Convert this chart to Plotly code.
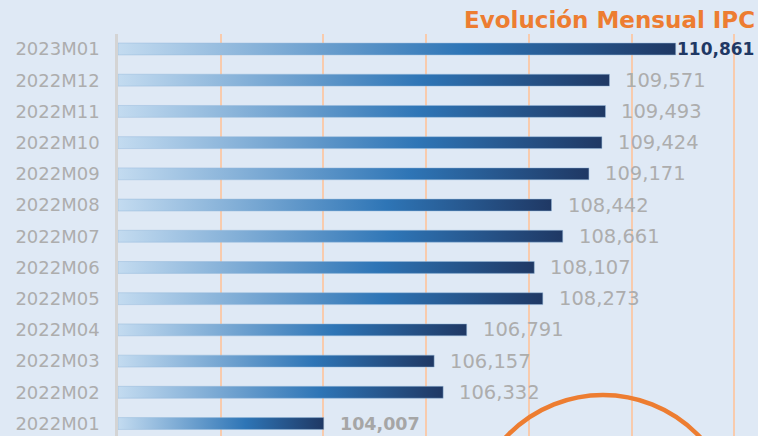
import plotly.graph_objects as go

categories = ["2023M01", "2022M12", "2022M11", "2022M10", "2022M09", "2022M08", "2022M07",
              "2022M06", "2022M05", "2022M04", "2022M03", "2022M02", "2022M01"]
values = [110.861, 109.571, 109.493, 109.424, 109.171, 108.442, 108.661,
          108.107, 108.273, 106.791, 106.157, 106.332, 104.007]
title_text = "Evolución Mensual IPC"

BASE = 100.0
HALF = 0.19
FONT = "DejaVu Sans"
grad = [[0, "#c3dbf0"], [0.62, "#2e75b6"], [1, "#1f3864"]]

fig = go.Figure()
for i, v in enumerate(values):
    fig.add_trace(go.Scatter(
        x=[BASE, v, v, BASE, BASE],
        y=[i - HALF, i - HALF, i + HALF, i + HALF, i - HALF],
        mode="lines", fill="toself",
        line=dict(width=0.8, color="rgba(150,185,220,0.6)"),
        fillgradient=dict(type="horizontal", colorscale=grad),
        hoverinfo="skip", showlegend=False,
    ))

vmax = max(values)
vmin = min(values)
for i, v in enumerate(values):
    txt = f"{v:,.3f}".replace(".", ",")
    if v == vmax:
        font = dict(size=17, color="#1f3864", family=FONT, weight="bold")
        shift = -1
    elif v == vmin:
        font = dict(size=17.5, color="#a6a6a6", family=FONT, weight="bold")
        shift = 14
    else:
        font = dict(size=19.5, color="#adadad", family=FONT)
        shift = 14
    fig.add_annotation(x=v, y=i, text=txt, showarrow=False, xanchor="left",
                       yanchor="middle", xshift=shift, font=font)

fig.add_annotation(x=1, y=1.035, xref="paper", yref="paper", text=title_text,
                   showarrow=False, xanchor="right", yanchor="middle", xshift=-1,
                   font=dict(size=23, color="#ed7d31", family=FONT, weight="bold"))

fig.add_shape(type="circle", xref="paper", yref="paper",
              x0=0.55, x1=0.9656, y0=-0.56, y1=0.102,
              line=dict(color="#ed7d31", width=4.5), layer="above")

fig.update_layout(
    width=758, height=436,
    margin=dict(l=118, r=0, t=34, b=0),
    paper_bgcolor="#dfe9f5", plot_bgcolor="#dfe9f5",
    xaxis=dict(range=[BASE, BASE + 640 / 51.35], showticklabels=False, ticks="",
               showgrid=True, gridcolor="#f8cbad", gridwidth=2, dtick=2, tick0=BASE,
               zeroline=False, showline=False),
    yaxis=dict(range=[12.40, -0.48], tickvals=list(range(len(categories))),
               ticktext=categories, showgrid=False, zeroline=False,
               showline=True, linecolor="#d4d4d4", linewidth=2.5,
               ticks="", ticklabelstandoff=12,
               tickfont=dict(size=18, color="#adadad", family=FONT)),
)

fig.write_html("out.html", config={"displayModeBar": False},
               post_script="document.body.style.margin='0';document.body.style.overflow='hidden';")
